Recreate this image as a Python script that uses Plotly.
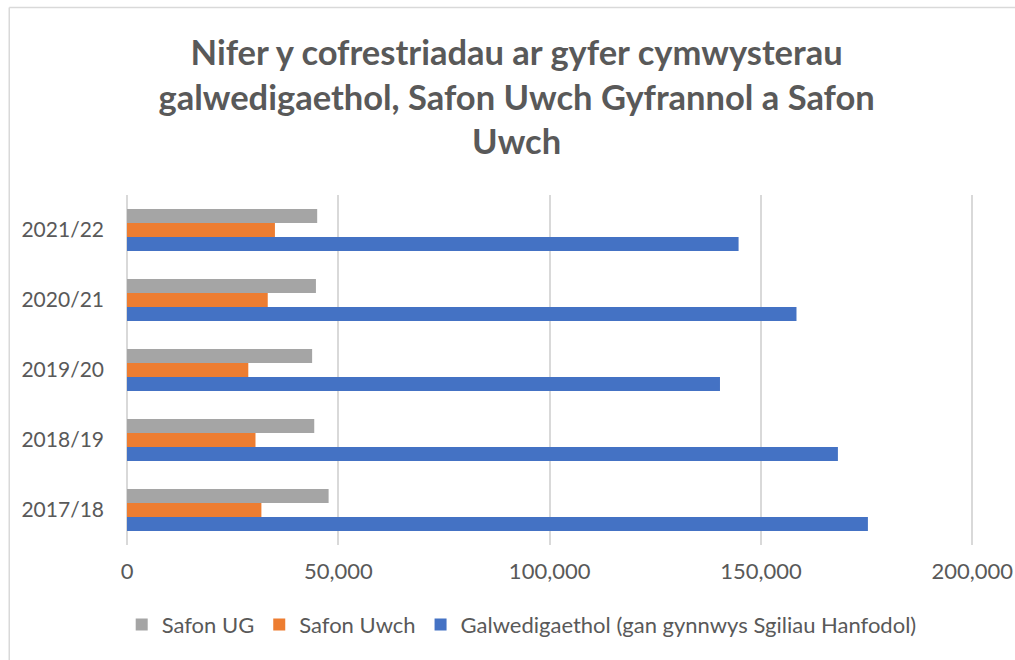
import plotly.graph_objects as go

years = ["2017/18", "2018/19", "2019/20", "2020/21", "2021/22"]
safon_ug = [47700, 44300, 43800, 44700, 45000]
safon_uwch = [31800, 30400, 28700, 33300, 35000]
galwedigaethol = [175300, 168200, 140300, 158400, 144700]

names = ["Safon UG", "Safon Uwch", "Galwedigaethol (gan gynnwys Sgiliau Hanfodol)"]
colors = ["#A5A5A5", "#ED7D31", "#4472C4"]
tick_vals = [0, 50000, 100000, 150000, 200000]

title_text = ("Nifer y cofrestriadau ar gyfer cymwysterau<br>"
              "galwedigaethol, Safon Uwch Gyfrannol a Safon<br>Uwch")

TXT = "#595959"
FONT = "Lato, 'Open Sans', sans-serif"

fig = go.Figure()
# Plotly stacks horizontal grouped bars bottom-to-top in trace order
for nm, vals, col in [(names[2], galwedigaethol, colors[2]),
                      (names[1], safon_uwch, colors[1]),
                      (names[0], safon_ug, colors[0])]:
    fig.add_trace(go.Bar(
        y=years, x=vals, name=nm, orientation="h",
        marker=dict(color=col, line=dict(width=0)),
    ))

fig.update_layout(
    width=1015, height=660,
    paper_bgcolor="white", plot_bgcolor="white",
    margin=dict(l=127, r=41, t=195, b=115, autoexpand=False),
    barmode="group", bargap=0.4, bargroupgap=0,
    font=dict(family=FONT, color=TXT, size=20),
    title=dict(text=title_text, x=0.509, xanchor="center", y=0.902, yanchor="top",
               font=dict(family=FONT, size=34.5, color=TXT, weight="bold")),
    showlegend=True,
    legend=dict(orientation="h", traceorder="reversed", x=0.466, xanchor="center",
                y=-0.228, yanchor="middle", font=dict(size=22, color=TXT),
                itemwidth=30),
    xaxis=dict(range=[0, 200400], tickvals=tick_vals, tickformat=",",
               automargin=False,
               showgrid=True, gridcolor="#D9D9D9", gridwidth=1.5,
               zeroline=True, zerolinecolor="#D9D9D9", zerolinewidth=1.5,
               showline=False, ticks="", ticklabelstandoff=11,
               tickfont=dict(size=22, color=TXT)),
    yaxis=dict(showgrid=False, showline=False, ticks="", ticklabelstandoff=22,
               automargin=False,
               tickfont=dict(size=21, color=TXT)),
    shapes=[
        dict(type="line", xref="paper", yref="paper", x0=-0.139, x1=1.2,
             y0=1.5357, y1=1.5357, line=dict(color="#D9D9D9", width=1.5)),
        dict(type="line", xref="paper", yref="paper", x0=-0.139, x1=-0.139,
             y0=1.5357, y1=-0.4, line=dict(color="#D9D9D9", width=1.5)),
    ],
)

fig.write_html("out.html", config={"displayModeBar": False},
               post_script="document.body.style.margin='0';document.body.style.overflow='hidden';")
